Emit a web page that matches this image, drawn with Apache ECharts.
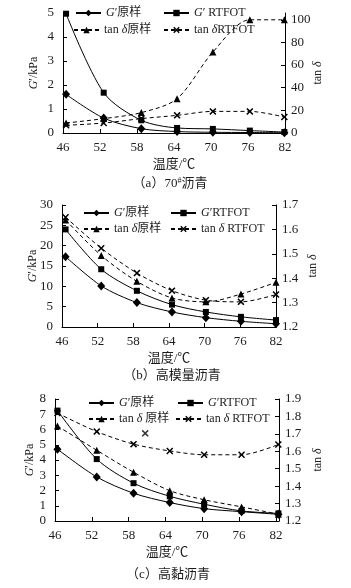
<!DOCTYPE html>
<html>
<head>
<meta charset="utf-8">
<script src="https://cdn.jsdelivr.net/npm/echarts@6/dist/echarts.min.js"></script>
<style>
  html, body { margin: 0; padding: 0; background: #fff; }
  #main { width: 351px; height: 588px; }
</style>
</head>
<body>
<div id="main"></div>
<script>
// (a) 70#沥青
const tempA = [46.5, 52.6, 58.7, 64.5, 70.3, 76.3, 81.9]
const gOrigA = [1.61, 0.62, 0.18, 0.06, 0.03, 0.02, 0.01]
const gRtfotA = [4.97, 1.68, 0.53, 0.21, 0.17, 0.1, 0.04]
const tanOrigA = [8.8, 12.7, 18, 30.3, 71.5, 100, 100]
const tanRtfotA = [6.8, 8.8, 12.7, 15.6, 19.1, 19.1, 14.1]

// (b) 高模量沥青
const tempB = [46.6, 52.6, 58.6, 64.5, 70.2, 76.1, 82]
const gOrigB = [17.3, 10.1, 6.0, 3.7, 2.3, 1.4, 0.8]
const gRtfotB = [24.0, 14.2, 8.9, 5.5, 3.7, 2.5, 1.7]
const tanOrigB = [1.639, 1.493, 1.387, 1.319, 1.303, 1.335, 1.383]
const tanRtfotB = [1.65, 1.523, 1.421, 1.349, 1.31, 1.303, 1.333]

// (c) 高黏沥青
const tempC = [46.4, 52.8, 58.8, 64.7, 70.3, 76.4, 82.4]
const gOrigC = [4.71, 2.89, 1.82, 1.21, 0.81, 0.61, 0.44]
const gRtfotC = [7.24, 4.06, 2.48, 1.62, 1.10, 0.66, 0.5]
const tanOrigC = [1.745, 1.606, 1.48, 1.374, 1.322, 1.281, 1.239]
const tanRtfotC = [1.819, 1.713, 1.641, 1.602, 1.58, 1.58, 1.639]
const strayC = [[60.7, 1.703]]

// x轴刻度
const xTicks = { min: 46, interval: 6 }

const font = "'Liberation Serif', 'Noto Sans CJK SC', serif"
const ink = '#1c1c1c'
const xMark = 'path://M0,1.5L1.5,0L5,3.5L8.5,0L10,1.5L6.5,5L10,8.5L8.5,10L5,6.5L1.5,10L0,8.5L3.5,5Z'

const rich = {
    i: { fontStyle: 'italic', fontFamily: font, fontSize: 12, color: ink },
    n: { fontFamily: font, fontSize: 12, color: ink }
}
function richName(s) {
    return s.split(/(G|δ)/).filter(t => t).map(t => {
        return (t === 'G' || t === 'δ') ? `{i|${t}}` : `{n|${t}}`
    }).join('')
}

function pairs(xs, ys) {
    return xs.map((x, k) => [x, ys[k]])
}

const option = {
    animation: false,
    backgroundColor: '#fff',
    grid: [],
    xAxis: [],
    yAxis: [],
    series: [],
    legend: [],
    title: []
}

function addChart(cfg) {
    const gi = option.grid.length
    option.grid.push({ left: cfg.grid[0], top: cfg.grid[1], width: cfg.grid[2], height: cfg.grid[3] })

    option.xAxis.push({
        type: 'value', gridIndex: gi, min: xTicks.min, max: cfg.xMax, interval: xTicks.interval,
        name: '温度/℃', nameLocation: 'middle', nameGap: 25, nameMoveOverlap: false,
        nameTextStyle: { fontFamily: font, fontSize: 13, color: ink },
        axisLine: { lineStyle: { color: '#000', width: 1 } },
        axisTick: { inside: true, length: 4, lineStyle: { color: '#000' } },
        axisLabel: { margin: 8, fontFamily: font, fontSize: 13, color: ink, showMaxLabel: cfg.xMax === 82 },
        splitLine: { show: false }
    })

    const left = option.yAxis.length
    option.yAxis.push({
        type: 'value', gridIndex: gi, position: 'left', min: cfg.left[0], max: cfg.left[1], interval: cfg.left[2],
        name: '{i|G}{n|′/kPa}', nameLocation: 'middle', nameGap: cfg.leftGap, nameRotate: 90, nameMoveOverlap: false,
        nameTextStyle: { rich: rich },
        axisLine: { show: true, lineStyle: { color: '#000', width: 1 } },
        axisTick: { show: true, inside: true, length: 4, lineStyle: { color: '#000' } },
        axisLabel: { margin: 9, fontFamily: font, fontSize: 13, color: ink },
        splitLine: { show: false }
    })
    option.yAxis.push({
        type: 'value', gridIndex: gi, position: 'right', min: cfg.right[0], max: cfg.right[1], interval: cfg.right[2],
        name: '{n|tan }{i|δ}', nameLocation: 'middle', nameGap: cfg.rightGap, nameRotate: 90, nameMoveOverlap: false,
        nameTextStyle: { rich: rich },
        axisLine: { show: true, lineStyle: { color: '#000', width: 1 } },
        axisTick: { show: true, inside: true, length: 4, lineStyle: { color: '#000' } },
        axisLabel: {
            margin: 6, fontFamily: font, fontSize: 13, color: ink, showMaxLabel: cfg.rightMaxLabel,
            formatter: v => cfg.right[2] < 1 ? v.toFixed(1) : v
        },
        splitLine: { show: false }
    })

    const solid = { color: '#000', width: 1 }
    const dashed = { color: '#000', width: 1, type: [4, 3] }
    const defs = [
        { name: cfg.names[0], y: cfg.data[0], axis: left, symbol: 'diamond', size: [8, 9], line: solid },
        { name: cfg.names[1], y: cfg.data[1], axis: left, symbol: 'rect', size: 6, line: solid },
        { name: cfg.names[2], y: cfg.data[2], axis: left + 1, symbol: 'triangle', size: 7, line: dashed },
        { name: cfg.names[3], y: cfg.data[3], axis: left + 1, symbol: xMark, size: 7, line: dashed }
    ]
    defs.forEach(d => {
        option.series.push({
            name: d.name, type: 'line', xAxisIndex: gi, yAxisIndex: d.axis,
            data: pairs(cfg.temp, d.y), smooth: 0.3,
            symbol: d.symbol, symbolSize: d.size, showAllSymbol: true,
            itemStyle: { color: '#000' }, lineStyle: d.line
        })
    })
    if (cfg.stray) {
        option.series.push({
            type: 'scatter', xAxisIndex: gi, yAxisIndex: left + 1, data: cfg.stray,
            symbol: xMark, symbolSize: 7, itemStyle: { color: '#000' }
        })
    }

    // 图例, 每项单独摆放
    cfg.legendPos.forEach((p, k) => {
        option.legend.push({
            data: [cfg.names[k]], left: p[0], top: p[1] - 7,
            itemWidth: 25, itemHeight: 8, itemGap: 0, padding: 0,
            selectedMode: false,
            textStyle: { rich: rich },
            formatter: name => richName(name)
        })
    })

    option.title.push({
        text: cfg.caption, left: cfg.captionPos[0], top: cfg.captionPos[1] - 8, textAlign: 'center',
        textStyle: {
            fontFamily: font, fontSize: 13, fontWeight: 'normal', color: ink,
            rich: {
                n: { fontFamily: font, fontSize: 13, color: ink },
                s: { fontFamily: font, fontSize: 8, color: ink, padding: [0, 0, 6, 0] }
            }
        }
    })
}

addChart({
    grid: [63, 13, 222, 120], xMax: 82,
    left: [0, 5, 1], right: [0, 106, 20], rightMaxLabel: false, leftGap: 23, rightGap: 27,
    temp: tempA, data: [gOrigA, gRtfotA, tanOrigA, tanRtfotA],
    names: ['G′原样', 'G′ RTFOT', 'tan δ原样', 'tan δRTFOT'],
    legendPos: [[75, 14], [163, 14], [73, 31], [163, 31]],
    caption: '{n|（a）70}{s|#}{n|沥青}', captionPos: [165, 180]
})
addChart({
    grid: [62, 205, 214, 122], xMax: 82,
    left: [0, 30, 5], right: [1.2, 1.7, 0.1], rightMaxLabel: true, leftGap: 23, rightGap: 31,
    temp: tempB, data: [gOrigB, gRtfotB, tanOrigB, tanRtfotB],
    names: ['G′原样', 'G′RTFOT', 'tan δ原样', 'tan δ RTFOT'],
    legendPos: [[83, 214], [170, 214], [83, 230], [170, 230]],
    caption: '{n|（b）高模量沥青}', captionPos: [167, 372]
})
addChart({
    grid: [55, 399, 224, 122], xMax: 82.5,
    left: [0, 8, 1], right: [1.2, 1.9, 0.1], rightMaxLabel: true, leftGap: 19, rightGap: 33,
    temp: tempC, data: [gOrigC, gRtfotC, tanOrigC, tanRtfotC], stray: strayC,
    names: ['G′原样', 'G′RTFOT', 'tan δ 原样', 'tan δ RTFOT'],
    legendPos: [[88, 404], [177, 404], [88, 420], [175, 420]],
    caption: '{n|（c）高黏沥青}', captionPos: [163, 571]
})

const myChart = echarts.init(document.querySelector('#main'), null, { renderer: 'canvas' })
myChart.setOption(option)
</script>
</body>
</html>
